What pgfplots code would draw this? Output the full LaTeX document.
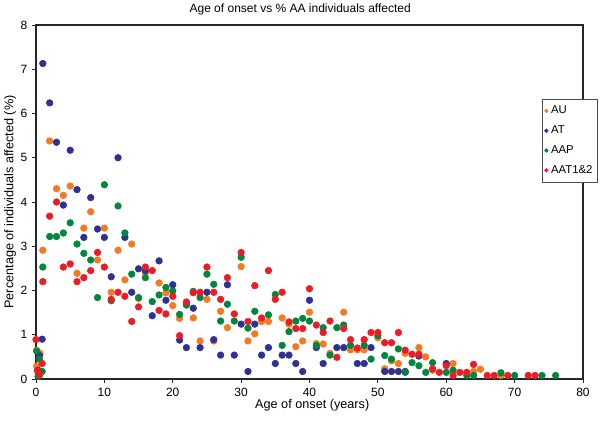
\documentclass[border=0pt]{standalone}
\usepackage{fontspec}
\setmainfont{Liberation Sans}
\usepackage{pgfplots}
\pgfplotsset{compat=1.18}
\definecolor{cAU}{RGB}{244,121,32}
\definecolor{cAT}{RGB}{46,49,146}
\definecolor{cAAP}{RGB}{0,135,62}
\definecolor{cAAT}{RGB}{237,28,36}
\begin{document}
\begin{tikzpicture}
\useasboundingbox (-27pt,-32.25pt) rectangle (423pt,284.25pt);
\begin{axis}[
  at={(0pt,0pt)}, anchor=south west,
  scale only axis, width=410.25pt, height=265.5pt,
  xmin=0, xmax=80, ymin=0, ymax=8,
  xtick={0,10,...,80}, ytick={0,1,...,8},
  tick align=outside, tick pos=left, major tick length=3pt,
  axis line style={black!85, line width=0.9pt},
  tick style={black!85, line width=0.7pt},
  /pgf/number format/assume math mode=true,
  ticklabel style={font=\fontsize{9}{10}\selectfont},
  title={Age of onset vs \% AA individuals affected},
  title style={font=\fontsize{9}{10}\selectfont, anchor=center, at={(axis description cs:0.483,1.022)}},
  xlabel={Age of onset (years)},
  xlabel style={font=\fontsize{9.5}{10}\selectfont, anchor=center, at={(axis description cs:0.505,-0.073)}},
  ylabel={Percentage of individuals affected (\%)},
  ylabel style={font=\fontsize{9.5}{10}\selectfont, anchor=center, at={(axis description cs:-0.0475,0.5)}},
  legend style={at={(axis description cs:0.925,0.791)}, anchor=north west,
    draw=black!70, line width=0.5pt, fill=white, font=\fontsize{8.5}{10}\selectfont,
    row sep=3.5pt, inner xsep=1.5pt, inner ysep=3pt},
  legend cell align=left,
  legend image code/.code={\fill (0.05cm,0cm) circle (1.3pt);},
  every axis plot/.append style={only marks, mark=*, mark size=2.5pt, mark options={draw=none}},
]
\addplot[color=cAU] coordinates {
(0.1,0.29)(0.1,0.65)(0.6,0.58)(0.5,0.12)
(1,2.91)(2,5.38)(3,4.3)(4,4.15)(5,4.36)(6,2.39)(7,3.41)(8,3.78)(9,2.69)(10,3.41)(11,1.96)(12,2.91)(13,2.24)(14,3.05)(15,1.82)(16,2.4)(18,2.17)(19,1.95)(20,1.66)(21,1.37)(22,1.71)(23,1.38)(24,0.86)(25,1.8)(26,0.86)(27,1.53)(28,1.16)(30,2.54)(31,0.86)(32,1.02)(33,1.3)(34,1.3)(36,1.38)(37,1.24)(38,0.73)(39,0.86)(40,1.51)(41,0.8)(42,0.79)(43,0.58)(45,1.51)(46,0.66)(47,0.66)(48,0.66)(50,0.93)(51,0.23)(52,0.41)(53,0.35)(54,0.58)(56,0.71)(57,0.5)(58,0.2)(61,0.35)(64,0.17)(65,0.22)(68,0.08)
};
\addlegendentry{AU}
\addplot[color=cAT] coordinates {
(0.9,0.9)(0.5,0.53)(0.3,0.2)
(1,7.13)(2,6.24)(3,5.35)(4,3.93)(5,5.17)(6,4.28)(7,3.2)(8,4.1)(9,3.39)(10,3.2)(11,2.31)(12,5.0)(13,3.2)(14,1.96)(15,2.49)(16,2.45)(17,1.43)(18,2.67)(19,1.78)(20,2.13)(21,0.88)(22,0.71)(23,1.6)(24,0.71)(25,1.96)(26,0.89)(27,0.54)(28,2.13)(29,0.54)(30,1.24)(31,0.17)(32,1.24)(33,0.54)(34,0.71)(35,0.35)(36,0.54)(37,0.54)(38,0.35)(39,0.17)(40,1.78)(41,0.71)(42,0.35)(44,0.71)(45,0.71)(47,0.35)(48,0.35)(49,0.71)(51,0.17)(52,0.17)(53,0.17)(54,0.17)(56,0.52)(60,0.35)
};
\addlegendentry{AT}
\addplot[color=cAAP] coordinates {
(0.1,0.63)(0.5,0.45)(0.9,0.17)(0.3,0.06)
(1,2.53)(2,3.22)(3,3.22)(4,3.3)(5,3.53)(6,3.05)(7,2.84)(8,2.69)(9,1.84)(10,4.39)(11,1.77)(12,3.91)(13,3.3)(14,2.37)(15,1.84)(16,2.29)(17,1.75)(18,1.9)(19,2.07)(20,1.99)(21,1.46)(22,1.67)(23,1.98)(24,1.84)(25,2.37)(26,2.14)(27,1.31)(28,1.69)(29,1.31)(30,2.75)(31,1.15)(32,1.53)(34,1.45)(35,1.91)(36,0.76)(37,1.07)(38,1.31)(39,1.37)(40,1.31)(41,0.76)(42,1.16)(43,0.54)(44,1.16)(45,1.22)(46,0.76)(48,0.76)(49,0.45)(50,0.98)(51,0.53)(52,0.45)(53,0.68)(54,0.15)(55,0.37)(56,0.3)(57,0.15)(58,0.37)(60,0.15)(61,0.2)(63,0.08)(64,0.08)(68,0.14)(70,0.08)(74,0.08)(76,0.08)
};
\addlegendentry{AAP}
\addplot[color=cAAT] coordinates {
(0,0.89)(0.9,0.35)(0.2,0.19)(0.5,0.09)
(1,2.2)(2,3.68)(3,4.0)(4,2.53)(5,2.6)(6,2.2)(7,2.29)(8,2.45)(9,2.86)(10,2.53)(11,1.8)(12,1.96)(13,1.87)(14,1.3)(15,1.63)(16,2.53)(17,2.45)(18,1.55)(19,1.47)(20,1.87)(21,0.98)(22,1.74)(23,1.95)(24,1.96)(25,2.53)(26,1.96)(27,1.8)(28,2.29)(29,1.47)(30,2.86)(31,1.3)(32,2.11)(33,1.38)(34,2.45)(35,1.8)(36,1.96)(37,1.29)(38,1.14)(39,1.14)(40,2.04)(41,1.22)(42,1.05)(43,1.31)(44,0.49)(45,1.14)(46,0.89)(47,0.7)(48,0.89)(49,1.05)(50,1.05)(51,0.82)(52,0.82)(53,1.05)(54,0.65)(55,0.56)(56,0.56)(58,0.23)(59,0.15)(60,0.3)(61,0.08)(62,0.15)(63,0.15)(64,0.33)(66,0.08)(67,0.08)(69,0.08)(72,0.08)(73,0.08)
};
\addlegendentry{AAT1\&2}
\end{axis}
\end{tikzpicture}
\end{document}
